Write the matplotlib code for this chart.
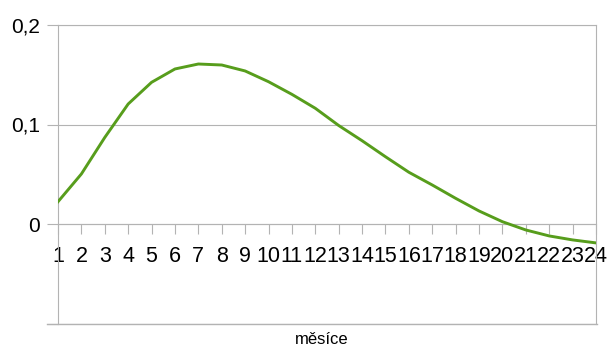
import matplotlib
matplotlib.use("Agg")
import matplotlib.pyplot as plt

months = list(range(1, 25))
values = [0.0224, 0.0503, 0.087, 0.1206, 0.1424, 0.1558, 0.1608, 0.1598,
          0.1538, 0.143, 0.1303, 0.1163, 0.099, 0.0837, 0.0676, 0.052,
          0.0392, 0.0258, 0.0131, 0.0023, -0.006, -0.012, -0.016, -0.019]
y_ticks = [-0.1, 0.0, 0.1, 0.2]
y_labels = ['', '0', '0,1', '0,2']
x_label = 'měsíce'

plt.rcParams['font.family'] = ['Liberation Sans', 'DejaVu Sans']
grey = '#b3b3b3'

fig = plt.figure(figsize=(6.11, 3.47), dpi=100)
ax = fig.add_axes([58/611, 1-323.5/347, (596-58)/611, (323.5-25)/347])

ax.plot(months, values, color='#579d1c', linewidth=2.1, solid_joinstyle='round', zorder=3)

ax.set_xlim(1, 24)
ax.set_ylim(-0.1, 0.2)
ax.set_yticks(y_ticks)
ax.set_yticklabels(y_labels)
ax.set_xticks(months)
ax.set_xticklabels([str(m) for m in months])

ax.grid(axis='y', color=grey, linewidth=0.8)
ax.set_axisbelow(True)

for s in ['left', 'right', 'top', 'bottom']:
    ax.spines[s].set_color(grey)
    ax.spines[s].set_linewidth(0.8)
ax.spines['bottom'].set_position(('data', 0))

# baseline at the bottom of the plot area (drawn in figure coordinates)
fig.add_artist(plt.Line2D([47/611, 596.5/611], [1-323.5/347, 1-323.5/347],
                          color=grey, linewidth=1.0))

ax.tick_params(axis='y', direction='out', length=8, width=0.8, color=grey,
               labelsize=15, pad=5, labelcolor='#000000')
ax.tick_params(axis='x', direction='out', length=7.5, width=0.8, color=grey,
               labelsize=15.5, pad=8, labelcolor='#000000')

fig.text(322/611, 1-339/347, x_label, ha='center', va='center', fontsize=12)

fig.savefig('out.png', dpi=100)
